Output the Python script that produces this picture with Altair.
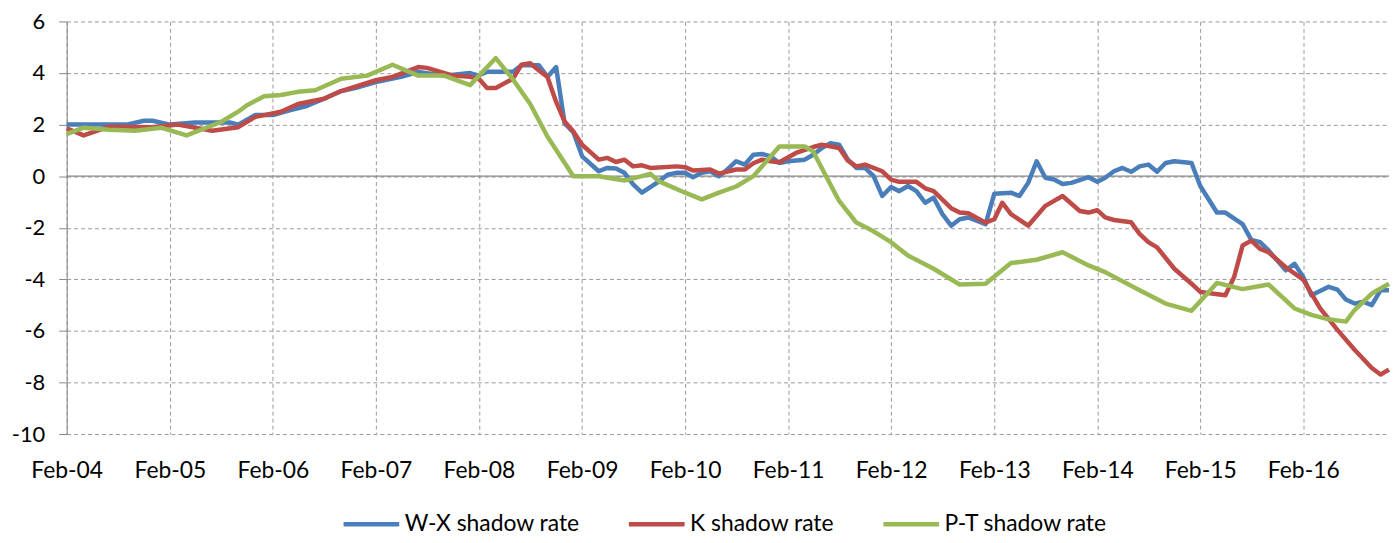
import altair as alt
import pandas as pd

series_names = ["W-X shadow rate", "K shadow rate", "P-T shadow rate"]
series_colors = ["#4A7EBB", "#BE4B48", "#98B954"]

# months elapsed since Feb-2004, and the value read at that month
wx_month = [0, 7, 9, 10, 12, 15, 19, 20, 22, 24, 26, 28, 30, 32, 34, 36, 39, 41, 44, 47,
            48, 49, 52, 53, 55, 56, 57, 58, 59, 60, 62, 63, 64, 65, 66, 67, 69, 70, 71, 72,
            73, 74, 75, 76, 77, 78, 79, 80, 81, 82, 83, 84, 86, 87, 88, 89, 90, 91, 92, 93,
            94, 95, 96, 97, 98, 99, 100, 101, 102, 103, 104, 105, 107, 108, 110, 111, 112, 113, 114, 115,
            116, 117, 119, 120, 121, 122, 123, 124, 125, 126, 127, 128, 129, 131, 132, 134, 135, 137, 138, 139,
            140, 142, 143, 144, 145, 147, 148, 149, 150, 151, 152, 153, 154]
wx_value = [2.0, 2.0, 2.15, 2.15, 2.0, 2.08, 2.08, 2.0, 2.37, 2.37, 2.55, 2.72, 3.0, 3.3, 3.45, 3.65, 3.85, 4.04, 3.9, 4.0,
            3.9, 4.05, 4.05, 4.3, 4.3, 3.85, 4.23, 2.05, 1.7, 0.77, 0.19, 0.32, 0.3, 0.13, -0.32, -0.64, -0.2, 0.06, 0.13, 0.13,
            -0.04, 0.13, 0.19, 0.0, 0.26, 0.58, 0.45, 0.83, 0.86, 0.77, 0.51, 0.58, 0.64, 0.83, 1.09, 1.28, 1.22, 0.64, 0.32, 0.32,
            0.0, -0.77, -0.42, -0.58, -0.38, -0.58, -1.03, -0.83, -1.47, -1.92, -1.67, -1.6, -1.86, -0.68, -0.64, -0.77, -0.26, 0.58, -0.06, -0.13,
            -0.3, -0.26, -0.04, -0.22, -0.06, 0.19, 0.32, 0.17, 0.38, 0.45, 0.17, 0.51, 0.58, 0.51, -0.38, -1.41, -1.41, -1.86, -2.47, -2.56,
            -2.88, -3.65, -3.4, -3.91, -4.62, -4.29, -4.4, -4.78, -4.94, -4.87, -5.0, -4.42, -4.42]

k_month = [0, 2, 5, 10, 13, 17, 20, 22, 25, 27, 30, 32, 36, 38, 41, 42, 45, 47, 48, 49,
           50, 52, 53, 54, 55, 56, 57, 58, 59, 60, 62, 63, 64, 65, 66, 67, 68, 71, 72, 73,
           75, 76, 78, 79, 80, 81, 82, 83, 85, 87, 88, 90, 91, 92, 93, 95, 96, 97, 99, 100,
           101, 103, 104, 105, 107, 108, 109, 110, 112, 114, 116, 118, 119, 120, 121, 122, 124, 125, 126, 127,
           129, 131, 132, 135, 136, 137, 138, 139, 140, 142, 144, 146, 148, 150, 152, 153, 154]
k_value = [1.86, 1.58, 1.92, 1.9, 2.0, 1.76, 1.9, 2.3, 2.5, 2.8, 3.0, 3.3, 3.72, 3.85, 4.23, 4.2, 3.9, 3.85, 3.78, 3.42,
           3.42, 3.78, 4.32, 4.38, 4.1, 3.85, 2.88, 2.12, 1.73, 1.22, 0.64, 0.71, 0.55, 0.64, 0.38, 0.42, 0.32, 0.38, 0.35, 0.22,
           0.26, 0.1, 0.26, 0.26, 0.5, 0.64, 0.58, 0.54, 0.9, 1.13, 1.22, 1.09, 0.6, 0.38, 0.45, 0.19, -0.13, -0.22, -0.22, -0.47,
           -0.58, -1.24, -1.41, -1.44, -1.8, -1.67, -1.03, -1.47, -1.92, -1.15, -0.77, -1.35, -1.41, -1.32, -1.6, -1.7, -1.79, -2.24, -2.56, -2.76,
           -3.59, -4.17, -4.49, -4.62, -3.91, -2.69, -2.5, -2.82, -2.95, -3.53, -4.01, -5.13, -5.96, -6.73, -7.44, -7.69, -7.5]

pt_month = [0, 2, 5, 8, 11, 14, 18, 20, 21, 23, 25, 27, 29, 32, 35, 38, 41, 44, 47, 50,
            52, 54, 56, 59, 62, 65, 68, 69, 72, 74, 76, 78, 80, 83, 86, 87, 89, 90, 92, 94,
            96, 98, 101, 104, 107, 110, 113, 116, 119, 121, 125, 128, 131, 134, 137, 140, 143, 145, 147, 149,
            150, 152, 154]
pt_value = [1.63, 1.88, 1.8, 1.76, 1.88, 1.58, 2.1, 2.5, 2.75, 3.1, 3.15, 3.27, 3.33, 3.78, 3.9, 4.32, 3.9, 3.9, 3.53, 4.58,
            3.75, 2.8, 1.54, 0.0, 0.0, -0.17, 0.09, -0.2, -0.64, -0.9, -0.64, -0.4, 0.0, 1.15, 1.15, 0.96, -0.32, -0.96, -1.8, -2.14,
            -2.56, -3.08, -3.59, -4.2, -4.17, -3.37, -3.24, -2.95, -3.46, -3.72, -4.42, -4.94, -5.22, -4.14, -4.38, -4.2, -5.13, -5.38, -5.55, -5.64,
            -5.19, -4.55, -4.17]

y_ticks = [-10, -8, -6, -4, -2, 0, 2, 4, 6]
x_tick_years = list(range(2004, 2017))

start = pd.Timestamp(2004, 2, 1)


def frame(months, values, name):
    dates = [(start + pd.DateOffset(months=m)).strftime("%Y-%m-%dT00:00:00") for m in months]
    return pd.DataFrame({"date": dates, "value": values, "series": name})


FONT = "Lato"
GRID = "#9a9a9a"
AXIS = "#868686"

x_enc = alt.X(
    "date:T",
    scale=alt.Scale(domain=[alt.DateTime(year=2004, month=2, date=1),
                            alt.DateTime(year=2016, month=12, date=1)]),
    axis=alt.Axis(
        values=[alt.DateTime(year=y, month=2, date=1) for y in x_tick_years],
        format="%b-%y", title=None, grid=True, gridDash=[4, 3], gridColor=GRID,
        domain=False, ticks=False, labelPadding=26, labelFont=FONT, labelFontSize=23,
        labelColor="#000000", labelFlush=False, labelOverlap=False,
    ),
)
y_enc = alt.Y(
    "value:Q",
    scale=alt.Scale(domain=[-10, 6], nice=False),
    axis=alt.Axis(
        values=y_ticks, title=None, grid=True, gridDash=[4, 3], gridColor=GRID,
        domainColor=AXIS, tickColor=AXIS, tickSize=8, labelPadding=14,
        labelExpr="'' + datum.value",
        labelFont=FONT, labelFontSize=22, labelColor="#000000",
    ),
)
color_scale = alt.Scale(domain=series_names, range=series_colors)
# a custom horizontal stroke twice as long as the symbol box, so the entry row stays low
legend = alt.Legend(
    orient="none", legendX=290, legendY=489, direction="horizontal", title=None,
    symbolType="M-2,0L2,0", symbolSize=784, symbolStrokeWidth=4.5,
    labelFont=FONT, labelFontSize=23, labelColor="#000000", labelLimit=400,
    columnPadding=40, labelOffset=17,
)

zero = alt.Chart(pd.DataFrame({"v": [0]})).mark_rule(color=AXIS, strokeWidth=1.3).encode(y=alt.Y("v:Q"))

layers = [zero]
for months, values, name in [(wx_month, wx_value, series_names[0]),
                             (k_month, k_value, series_names[1]),
                             (pt_month, pt_value, series_names[2])]:
    layers.append(
        alt.Chart(frame(months, values, name)).mark_line(strokeWidth=4.5, strokeJoin="round").encode(
            x=x_enc, y=y_enc,
            color=alt.Color("series:N", scale=color_scale, legend=legend),
        )
    )

chart = alt.layer(*layers).resolve_scale(y="shared").properties(
    width=1330, height=415,
    autosize=alt.AutoSizeParams(type="none"),
    padding={"left": 59, "top": 12, "right": 2, "bottom": 100},
).configure_view(stroke=None)

chart.save("out.html", embed_options={"renderer": "svg", "actions": False})
